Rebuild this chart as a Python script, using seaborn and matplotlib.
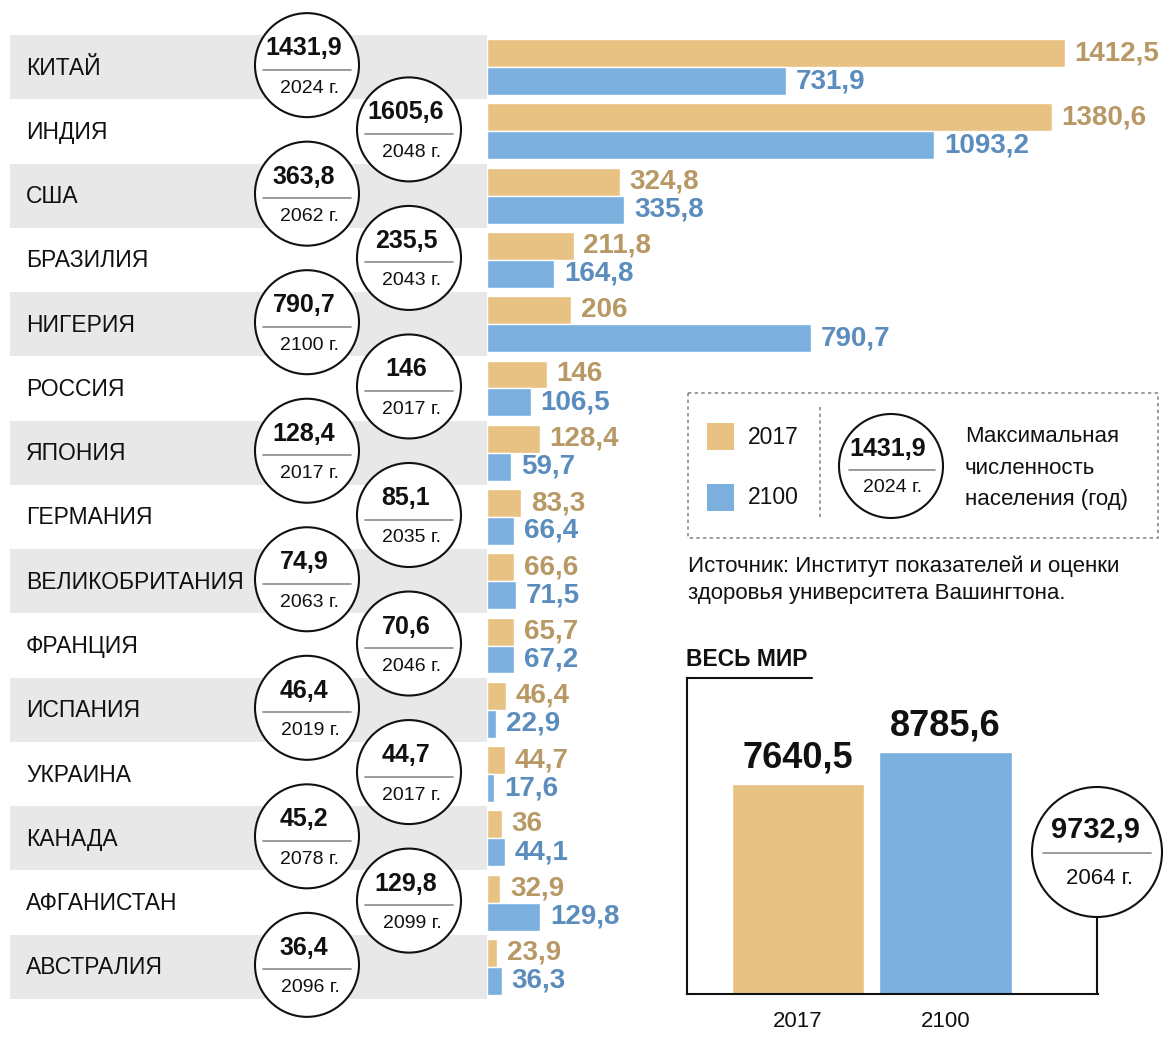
import pandas as pd
import matplotlib.pyplot as plt
import seaborn as sns
from matplotlib.patches import Rectangle, Circle

# Population data (millions)
countries = ["КИТАЙ", "ИНДИЯ", "США", "БРАЗИЛИЯ", "НИГЕРИЯ", "РОССИЯ", "ЯПОНИЯ", "ГЕРМАНИЯ",
             "ВЕЛИКОБРИТАНИЯ", "ФРАНЦИЯ", "ИСПАНИЯ", "УКРАИНА", "КАНАДА", "АФГАНИСТАН", "АВСТРАЛИЯ"]
pop_2017 = [1412.5, 1380.6, 324.8, 211.8, 206, 146, 128.4, 83.3, 66.6, 65.7, 46.4, 44.7, 36, 32.9, 23.9]
pop_2100 = [731.9, 1093.2, 335.8, 164.8, 790.7, 106.5, 59.7, 66.4, 71.5, 67.2, 22.9, 17.6, 44.1, 129.8, 36.3]
peak_pop = [1431.9, 1605.6, 363.8, 235.5, 790.7, 146, 128.4, 85.1, 74.9, 70.6, 46.4, 44.7, 45.2, 129.8, 36.4]
peak_year = [2024, 2048, 2062, 2043, 2100, 2017, 2017, 2035, 2063, 2046, 2019, 2017, 2078, 2099, 2096]

world_years = ["2017", "2100"]
world_pop = [7640.5, 8785.6]
world_peak = 9732.9
world_peak_year = 2064

GOLD = "#e8c283"
BLUE = "#7bb0de"
GOLD_TXT = "#b89864"
BLUE_TXT = "#5a8dbd"
BAND = "#e8e8e8"
INK = "#111111"

sns.set_theme(style="white")
plt.rcParams['font.family'] = ['Liberation Sans', 'DejaVu Sans']


def fmt(v):
    s = f"{v:.1f}"
    if s.endswith(".0"):
        s = s[:-2]
    return s.replace(".", ",")


W, H = 1166, 1041
fig = plt.figure(figsize=(W / 100, H / 100), dpi=100)

# canvas in pixel coordinates for decorations
canvas = fig.add_axes([0, 0, 1, 1])
canvas.set_xlim(0, W)
canvas.set_ylim(H, 0)
canvas.axis("off")

TOP, BOTTOM = 35, 999
n = len(countries)
pitch = (BOTTOM - TOP) / n


def row_y(i):
    return TOP + pitch * (i + 0.5)


# main bars
ax = fig.add_axes([487 / W, 1 - BOTTOM / H, (W - 487) / W, (BOTTOM - TOP) / H])
ax.set_zorder(2)
ax.patch.set_alpha(0)
df = pd.DataFrame({
    "country": countries * 2,
    "year": ["2017"] * n + ["2100"] * n,
    "value": pop_2017 + pop_2100,
})
sns.barplot(data=df, y="country", x="value", hue="year", palette=[GOLD, BLUE],
            orient="h", width=0.87, saturation=1, legend=False, ax=ax)
ax.set_xlim(0, (W - 487) / (578 / 1412.5))
ax.set_ylim(n - 0.5, -0.5)
ax.axis("off")
ax.bar_label(ax.containers[0], labels=[fmt(v) for v in pop_2017], padding=7,
             color=GOLD_TXT, fontsize=20, fontweight="bold")
ax.bar_label(ax.containers[1], labels=[fmt(v) for v in pop_2100], padding=7,
             color=BLUE_TXT, fontsize=20, fontweight="bold")

# bands, labels, circles
for i, name in enumerate(countries):
    y = row_y(i)
    if i % 2 == 0:
        canvas.add_patch(Rectangle((10, y - pitch / 2), 477, pitch, color=BAND, lw=0, zorder=1))
    canvas.text(26, y + 1, name, va="center", ha="left", fontsize=16.5, color=INK, zorder=2)
    cx = 307 if i % 2 == 0 else 409
    cy = y - 2
    canvas.add_patch(Circle((cx, cy), 52, fc="white", ec=INK, lw=1.5, zorder=3))
    canvas.text(cx - 3, cy - 17, fmt(peak_pop[i]), ha="center", va="center",
                fontsize=18, fontweight="bold", color=INK, zorder=4)
    canvas.plot([cx - 44, cx + 44], [cy + 4.5, cy + 4.5], color="#8a8a8a", lw=1.2, zorder=4)
    canvas.text(cx + 3, cy + 23, f"{peak_year[i]} г.", ha="center", va="center",
                fontsize=14, color=INK, zorder=4)

# legend box
canvas.add_patch(Rectangle((688, 393), 470, 145, fill=False, ec="#8a8a8a", lw=1.2,
                           ls=(0, (2, 2)), zorder=2))
canvas.plot([820, 820], [407, 520], color="#8a8a8a", lw=1.2, ls=(0, (2, 2)))
canvas.add_patch(Rectangle((707, 423), 27, 27, color=GOLD, lw=0))
canvas.add_patch(Rectangle((707, 484), 27, 27, color=BLUE, lw=0))
canvas.text(748, 437, "2017", va="center", fontsize=16.5, color=INK)
canvas.text(748, 498, "2100", va="center", fontsize=16.5, color=INK)
canvas.add_patch(Circle((891, 466), 52, fc="white", ec=INK, lw=1.5, zorder=3))
canvas.text(888, 449, "1431,9", ha="center", va="center", fontsize=18,
            fontweight="bold", color=INK, zorder=4)
canvas.plot([849, 935], [470, 470], color="#8a8a8a", lw=1.2, zorder=4)
canvas.text(893, 488, "2024 г.", ha="center", va="center", fontsize=14, color=INK, zorder=4)
for k, line in enumerate(["Максимальная", "численность", "населения (год)"]):
    canvas.text(965, 437 + 31.5 * k, line, va="center", fontsize=16, color=INK)

canvas.text(688, 566, "Источник: Институт показателей и оценки", va="center",
            fontsize=16, color=INK)
canvas.text(688, 594, "здоровья университета Вашингтона.", va="center",
            fontsize=16, color=INK)

# world panel
canvas.text(686, 660, "ВЕСЬ МИР", va="center", fontsize=16.5, fontweight="bold", color=INK)
canvas.plot([687, 812], [678, 678], color=INK, lw=1.5)
canvas.plot([1097, 1097], [917, 994], color=INK, lw=1.5)

axw = fig.add_axes([687 / W, 1 - 994 / H, 411 / W, 316 / H])
sns.barplot(x=world_years, y=world_pop, hue=world_years, palette=[GOLD, BLUE],
            width=0.895, saturation=1, legend=False, ax=axw)
axw.set_xlim(-111 / 147.5, 300 / 147.5)
axw.set_ylim(0, 316 / 0.02752)
axw.patch.set_alpha(0)
for side in ["top", "right"]:
    axw.spines[side].set_visible(False)
for side in ["left", "bottom"]:
    axw.spines[side].set_color(INK)
    axw.spines[side].set_linewidth(1.5)
axw.set_yticks([])
axw.set_xlabel("")
axw.set_ylabel("")
axw.tick_params(axis="x", length=0, pad=12, labelsize=16, labelcolor=INK)
for cont, v in zip(axw.containers, world_pop):
    axw.bar_label(cont, labels=[fmt(v)], padding=6, fontsize=26, fontweight="bold", color=INK)

canvas.add_patch(Circle((1097, 852), 65, fc="white", ec=INK, lw=1.5, zorder=3))
canvas.text(1095, 829, fmt(world_peak), ha="center", va="center", fontsize=21,
            fontweight="bold", color=INK, zorder=4)
canvas.plot([1043, 1151], [853, 853], color="#8a8a8a", lw=1.2, zorder=4)
canvas.text(1100, 878, f"{world_peak_year} г.", ha="center", va="center",
            fontsize=16, color=INK, zorder=4)

fig.savefig("out.png", dpi=100)
